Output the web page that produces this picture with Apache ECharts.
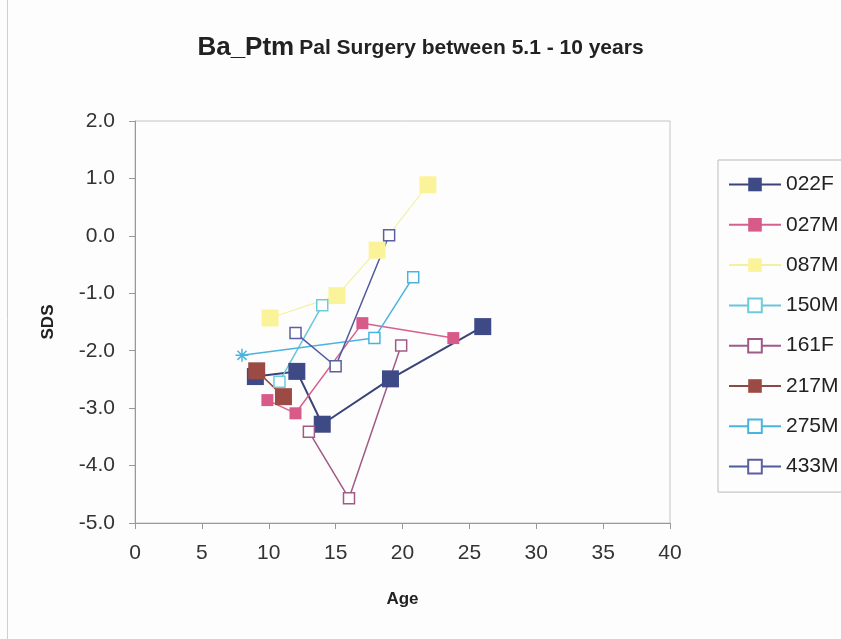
<!DOCTYPE html>
<html>
<head>
<meta charset="utf-8">
<script src="https://cdn.jsdelivr.net/npm/echarts@6/dist/echarts.min.js"></script>
<style>
  html, body { margin: 0; padding: 0; background: #fdfdfd; }
  #chart { width: 841px; height: 639px; }
</style>
</head>
<body>
<div id="chart"></div>
<script>
(function () {
    // 各病例: 年龄 / SDS
    const names = ['022F', '027M', '087M', '150M', '161F', '217M', '275M', '433M'];

    const age022F = [9.0, 12.1, 14.0, 19.1, 26.0];
    const sds022F = [-2.45, -2.36, -3.28, -2.49, -1.58];

    const age027M = [9.9, 12.0, 17.0, 23.8];
    const sds027M = [-2.86, -3.09, -1.52, -1.78];

    const age087M = [10.1, 15.1, 18.1, 21.9];
    const sds087M = [-1.43, -1.04, -0.25, 0.89];

    const age150M = [10.8, 14.0];
    const sds150M = [-2.54, -1.21];

    const age161F = [13.0, 16.0, 19.9];
    const sds161F = [-3.41, -4.57, -1.91];

    const age217M = [9.1, 11.1];
    const sds217M = [-2.35, -2.80];

    const age275M = [8.0, 17.9, 20.8];
    const sds275M = [-2.08, -1.78, -0.72];

    const age433M = [12.0, 15.0, 19.0];
    const sds433M = [-1.69, -2.27, 0.01];

    const ages = [age022F, age027M, age087M, age150M, age161F, age217M, age275M, age433M];
    const sds = [sds022F, sds027M, sds087M, sds150M, sds161F, sds217M, sds275M, sds433M];

    // 样式
    const styles = [
        { line: '#3a4478', fill: '#3d4a86', border: '#3d4a86', size: 17, lw: 2 },
        { line: '#d8608e', fill: '#d75a88', border: '#d75a88', size: 12, lw: 1.5 },
        { line: '#f4f0a0', fill: '#fbf39a', border: '#fbf39a', size: 17, lw: 1.2 },
        { line: '#6cc4dc', fill: '#ffffff', border: '#6ccbdc', size: 11, lw: 1.5 },
        { line: '#a05a88', fill: '#ffffff', border: '#a05a88', size: 11, lw: 1.5 },
        { line: '#8a4a44', fill: '#9b4a44', border: '#9b4a44', size: 17, lw: 1.5 },
        { line: '#4ab4e0', fill: '#ffffff', border: '#4ab4e0', size: 11, lw: 1.5 },
        { line: '#4f5a9c', fill: '#ffffff', border: '#5c5fa0', size: 11, lw: 1.5 }
    ];

    const star = 'path://M5,0L5,10M0,5L10,5M1.5,1.5L8.5,8.5M1.5,8.5L8.5,1.5';

    const series = names.map(function (n, i) {
        const st = styles[i];
        const data = ages[i].map(function (a, j) {
            const item = { value: [a, sds[i][j]] };
            if (n === '275M' && j === 0) {
                item.symbol = star;
                item.symbolSize = 13;
                item.itemStyle = { color: 'none', borderColor: st.border, borderWidth: 1.5 };
            }
            return item;
        });
        return {
            name: n,
            type: 'line',
            data: data,
            symbol: 'rect',
            symbolSize: st.size,
            lineStyle: { color: st.line, width: st.lw },
            itemStyle: { color: st.fill, borderColor: st.border, borderWidth: st.fill === '#ffffff' ? 1.5 : 0 },
            emphasis: { disabled: true },
            animation: false
        };
    });

    const font = 'Liberation Sans, Arial, sans-serif';

    const option = {
        backgroundColor: '#fdfdfd',
        title: {
            text: '{a|Ba_Ptm} {b|Pal Surgery between 5.1 - 10 years}',
            left: 'center',
            top: 30,
            textStyle: {
                rich: {
                    a: { fontSize: 26, fontWeight: 'bold', fontFamily: font, color: '#222' },
                    b: { fontSize: 21, fontWeight: 'bold', fontFamily: font, color: '#222' }
                }
            }
        },
        grid: {
            left: 135,
            top: 121,
            right: 171,
            bottom: 116,
            show: true,
            borderColor: '#c4c4c4',
            borderWidth: 1,
            backgroundColor: 'transparent'
        },
        legend: {
            orient: 'vertical',
            left: 718,
            top: 160,
            padding: [14, 20, 15, 10],
            itemWidth: 52,
            itemHeight: 17,
            itemGap: 19.3,
            borderColor: '#bbb',
            borderWidth: 1,
            textStyle: { fontSize: 21, color: '#222', fontFamily: font },
            data: names
        },
        xAxis: {
            type: 'value',
            min: 0,
            max: 40,
            interval: 5,
            name: 'Age',
            nameLocation: 'middle',
            nameGap: 68,
            nameTextStyle: { fontSize: 17, fontWeight: 'bold', color: '#222', fontFamily: font },
            axisLine: { onZero: false, lineStyle: { color: '#999' } },
            axisTick: { length: 6, lineStyle: { color: '#999' } },
            axisLabel: { fontSize: 21, color: '#333', margin: 20, fontFamily: font },
            splitLine: { show: false }
        },
        yAxis: {
            type: 'value',
            min: -5,
            max: 2,
            interval: 1,
            name: 'SDS',
            nameLocation: 'middle',
            nameGap: 78,
            nameTextStyle: { fontSize: 17, fontWeight: 'bold', color: '#222', fontFamily: font },
            axisLine: { show: true, onZero: false, lineStyle: { color: '#999' } },
            axisTick: { show: true, length: 6, lineStyle: { color: '#999' } },
            axisLabel: {
                fontSize: 21, color: '#333', margin: 20, fontFamily: font,
                formatter: function (v) { return v.toFixed(1); }
            },
            splitLine: { show: false }
        },
        graphic: [
            { type: 'line', shape: { x1: 7.5, y1: 0, x2: 7.5, y2: 639 }, style: { stroke: '#cfcfcf', lineWidth: 1 } }
        ],
        series: series
    };

    const myChart = echarts.init(document.getElementById('chart'));
    myChart && myChart.setOption(option);
}());
</script>
</body>
</html>
